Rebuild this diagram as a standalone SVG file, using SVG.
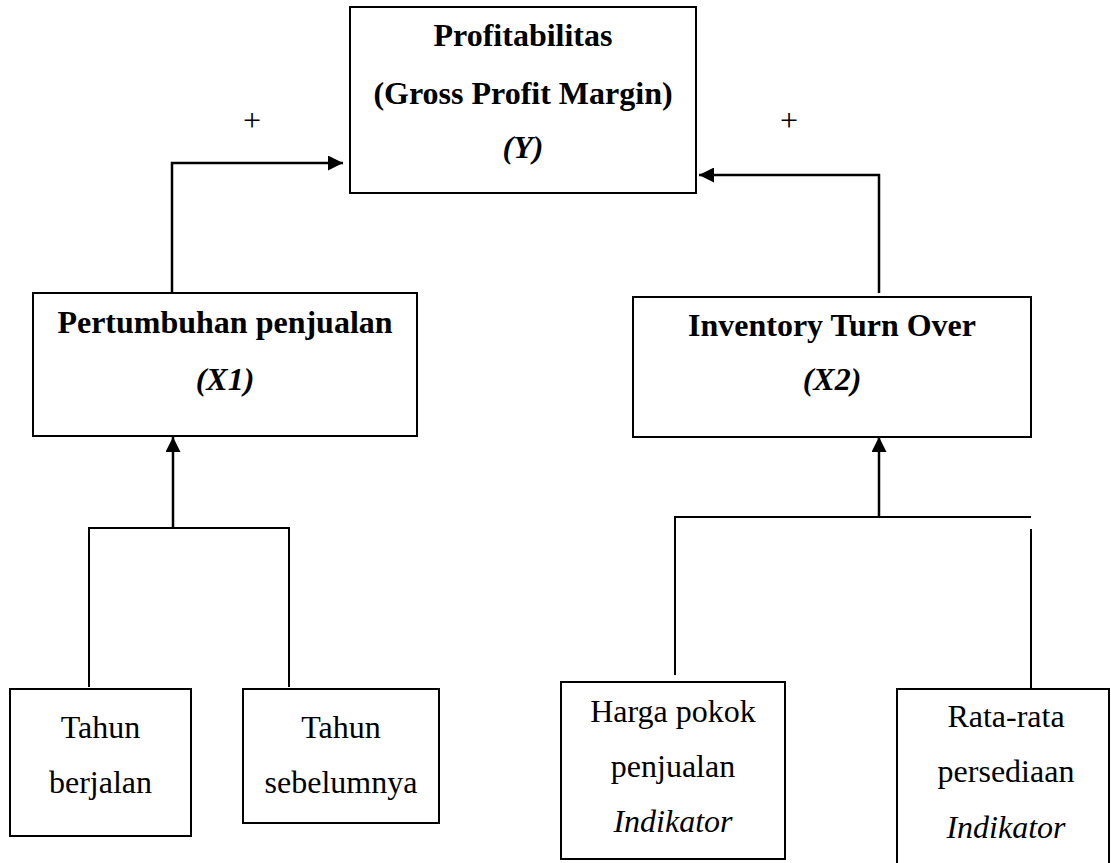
<svg xmlns="http://www.w3.org/2000/svg" width="1111" height="863" viewBox="0 0 1111 863">
<style>
.box{fill:#fff;stroke:#000;stroke-width:2}
.ln{fill:none;stroke:#000;stroke-width:2}
.ar{fill:none;stroke:#000;stroke-width:2.5}
text{font-family:"Liberation Serif","Times New Roman",serif;fill:#000;text-anchor:middle;font-size:32px}
.b{font-weight:bold}
.bi{font-weight:bold;font-style:italic}
.i{font-style:italic}
</style>
<defs>
<marker id="ah" viewBox="0 0 10 10" refX="10" refY="5" markerWidth="15" markerHeight="15" markerUnits="userSpaceOnUse" orient="auto">
<path d="M0,0 L10,5 L0,10 Z" fill="#000"/>
</marker>
</defs>
<rect width="1111" height="863" fill="#fff"/>
<g id="connectors">
<polyline class="ar" points="172,292 172,163 343,163" marker-end="url(#ah)"/>
<polyline class="ar" points="879,293 879,175 699,175" marker-end="url(#ah)"/>
<line class="ar" x1="173" y1="528" x2="173" y2="437" marker-end="url(#ah)"/>
<polyline class="ln" points="89,687 89,528 289,528 289,687"/>
<line class="ar" x1="879" y1="517" x2="879" y2="437" marker-end="url(#ah)"/>
<polyline class="ln" points="675,675 675,517 1031,517"/>
<line class="ln" x1="1031" y1="529" x2="1031" y2="688"/>
<text x="252" y="131">+</text>
<text x="789" y="131">+</text>
</g>
<g id="node-y">
<rect class="box" x="350" y="7" width="346" height="186"/>
<text class="b" x="523" y="46">Profitabilitas</text>
<text class="b" x="523" y="104">(Gross Profit Margin)</text>
<text class="bi" x="523" y="158">(Y)</text>
</g>
<g id="node-x1">
<rect class="box" x="33" y="293" width="384" height="143"/>
<text class="b" x="225" y="333">Pertumbuhan penjualan</text>
<text class="bi" x="225" y="390">(X1)</text>
</g>
<g id="node-x2">
<rect class="box" x="633" y="297" width="398" height="140"/>
<text class="b" x="832" y="336">Inventory Turn Over</text>
<text class="bi" x="832" y="390">(X2)</text>
</g>
<g id="node-tb">
<rect class="box" x="10" y="689" width="181" height="147"/>
<text x="100.5" y="738">Tahun</text>
<text x="100.5" y="793">berjalan</text>
</g>
<g id="node-ts">
<rect class="box" x="243" y="689" width="196" height="134"/>
<text x="341" y="738">Tahun</text>
<text x="341" y="793">sebelumnya</text>
</g>
<g id="node-hpp">
<rect class="box" x="561" y="682" width="224" height="177"/>
<text x="673" y="722">Harga pokok</text>
<text x="673" y="777">penjualan</text>
<text class="i" x="673" y="832">Indikator</text>
</g>
<g id="node-rrp">
<rect class="box" x="897" y="689" width="212" height="185"/>
<text x="1006" y="727">Rata-rata</text>
<text x="1006" y="782">persediaan</text>
<text class="i" x="1006" y="838">Indikator</text>
</g>
</svg>
